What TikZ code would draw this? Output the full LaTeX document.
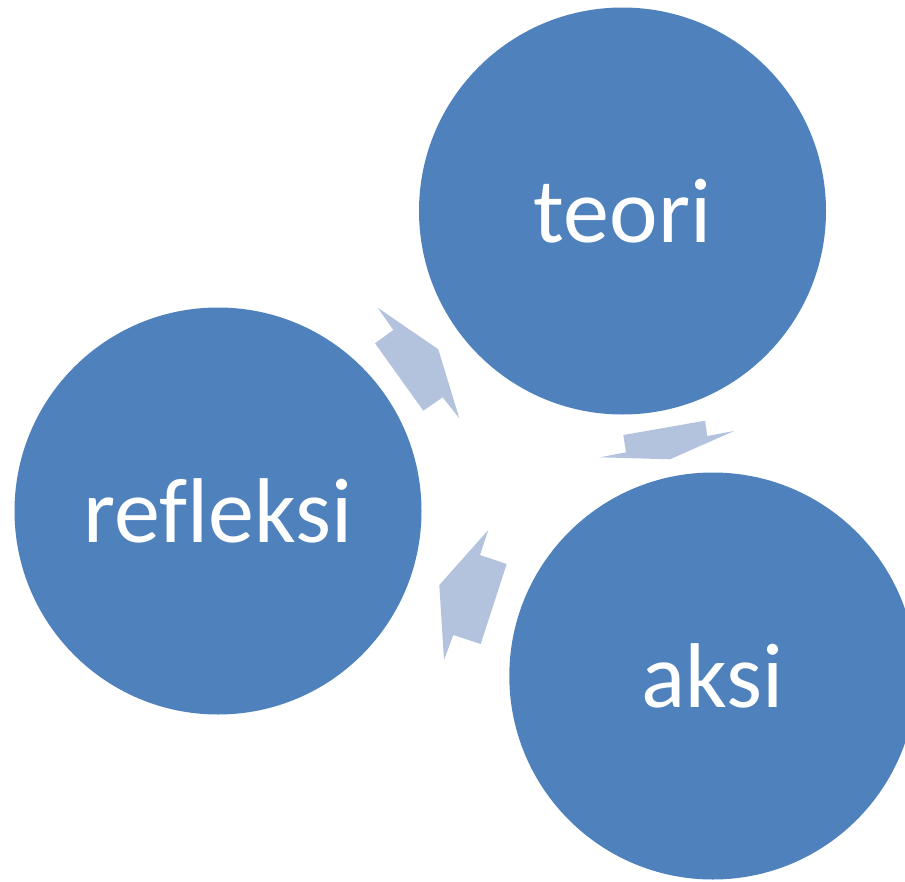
\documentclass[tikz,border=0pt]{standalone}
\usepackage{fontspec}
\setmainfont[Ligatures={NoCommon}]{Carlito}
\definecolor{circblue}{HTML}{4F81BD}
\definecolor{arrblue}{HTML}{B3C3DE}
\begin{document}
\begin{tikzpicture}[x=1pt,y=-1pt,
  bubble/.style={circle,fill=circblue,draw=none,minimum size=407pt,inner sep=0pt,text=white,font=\fontsize{92}{100}\selectfont},
  cyclearrow/.style={fill=arrblue,draw=none}]
\useasboundingbox (0,0) rectangle (905,881);
\begin{scope}
\clip (0,0) rectangle (905,881);
\node[bubble] (teori) at (622.5,211) {teori};
\node[bubble] (refleksi) at (218,511) {refleksi};
\node[bubble] (aksi) at (712.8,676) {aksi};
\end{scope}
% refleksi -> teori
\fill[cyclearrow] (377.7,307.7) -- (393.3,330) -- (375,343.3) -- (423.3,410.7) -- (442.7,397.3) -- (459.3,418.3) -- (438.3,349.3) -- cycle;
% teori -> aksi
\fill[cyclearrow] (600,457.3) -- (626,452.3) -- (623.3,435) -- (705,420.7) -- (707.3,436) -- (734,431) -- (670,459.3) -- cycle;
% aksi -> refleksi
\fill[cyclearrow] (488.3,530) -- (480,555) -- (506.7,564) -- (480.7,644) -- (453.3,635) -- (444,660) -- (439.3,585) -- cycle;
\end{tikzpicture}
\end{document}
